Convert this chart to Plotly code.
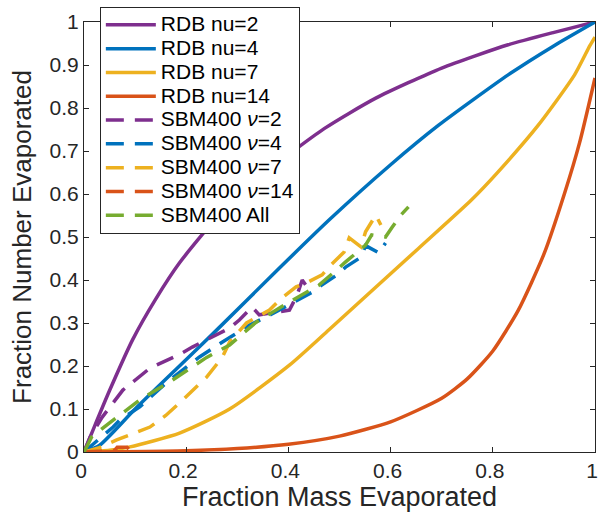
import plotly.graph_objects as go

# ---- data ----
rdb2_x = [0, 0.02, 0.05, 0.0955, 0.14, 0.187, 0.26, 0.35, 0.47, 0.571, 0.7, 0.83, 0.92, 1]
rdb2_y = [0, 0.058, 0.143, 0.262, 0.355, 0.44, 0.545, 0.645, 0.752, 0.823, 0.893, 0.947, 0.976, 1]

rdb4_x = [0, 0.03, 0.1, 0.193, 0.26, 0.38, 0.48, 0.6, 0.694, 0.83, 0.92, 1]
rdb4_y = [0, 0.015, 0.1, 0.207, 0.284, 0.425, 0.54, 0.668, 0.76, 0.877, 0.945, 1]

rdb7_x = [0, 0.05, 0.09, 0.187, 0.285, 0.402, 0.48, 0.655, 0.758, 0.81, 0.889, 0.96, 0.99, 1]
rdb7_y = [0, 0.004, 0.012, 0.044, 0.1, 0.202, 0.285, 0.474, 0.586, 0.651, 0.76, 0.877, 0.945, 0.965]

rdb14_x = [0, 0.2, 0.3, 0.4, 0.5, 0.6, 0.7, 0.75, 0.8, 0.85, 0.9, 0.94, 0.97, 1]
rdb14_y = [0, 0.003, 0.008, 0.018, 0.037, 0.07, 0.125, 0.17, 0.235, 0.33, 0.46, 0.6, 0.72, 0.87]

sbm2_x = [0, 0.012, 0.035, 0.076, 0.129, 0.187, 0.212, 0.246, 0.285, 0.304, 0.329, 0.343, 0.368, 0.402, 0.417, 0.427, 0.444]
sbm2_y = [0, 0.035, 0.08, 0.144, 0.195, 0.227, 0.244, 0.265, 0.288, 0.307, 0.337, 0.319, 0.323, 0.330, 0.365, 0.4, 0.372]

sbm4_x = [0, 0.02, 0.057, 0.07, 0.109, 0.16, 0.226, 0.271, 0.324, 0.376, 0.447, 0.46, 0.493, 0.512, 0.542, 0.551, 0.577, 0.59]
sbm4_y = [0, 0.02, 0.058, 0.074, 0.105, 0.16, 0.221, 0.256, 0.295, 0.326, 0.372, 0.384, 0.41, 0.43, 0.453, 0.48, 0.463, 0.486]

sbm7_x = [0, 0.03, 0.064, 0.1, 0.129, 0.16, 0.187, 0.24, 0.271, 0.285, 0.318, 0.363, 0.382, 0.415, 0.435, 0.466, 0.483, 0.509, 0.519, 0.542, 0.551, 0.571, 0.581]
sbm7_y = [0, 0.01, 0.028, 0.045, 0.058, 0.085, 0.114, 0.174, 0.221, 0.256, 0.3, 0.33, 0.353, 0.384, 0.393, 0.412, 0.435, 0.465, 0.498, 0.477, 0.512, 0.551, 0.528]

sbm14_x = [0, 0.03, 0.06, 0.065, 0.084, 0.09]
sbm14_y = [0, 0.002, 0.004, 0.011, 0.011, 0.004]

sball_x = [0, 0.015, 0.057, 0.109, 0.173, 0.226, 0.24, 0.285, 0.337, 0.402, 0.46, 0.512, 0.551, 0.563, 0.59, 0.602, 0.62, 0.635]
sball_y = [0, 0.035, 0.074, 0.121, 0.167, 0.209, 0.22, 0.249, 0.302, 0.349, 0.388, 0.442, 0.481, 0.505, 0.5, 0.521, 0.551, 0.57]

names = ["RDB nu=2", "RDB nu=4", "RDB nu=7", "RDB nu=14",
         "SBM400 <i>ν</i>=2", "SBM400 <i>ν</i>=4", "SBM400 <i>ν</i>=7", "SBM400 <i>ν</i>=14", "SBM400 All"]

x_ticks = [0, 0.2, 0.4, 0.6, 0.8, 1]
y_ticks = [0, 0.1, 0.2, 0.3, 0.4, 0.5, 0.6, 0.7, 0.8, 0.9, 1]

PURPLE = "#7E2F8E"
BLUE = "#0072BD"
YELLOW = "#EDB120"
ORANGE = "#D95319"
GREEN = "#77AC30"

series = [
    (rdb2_x, rdb2_y, PURPLE, "solid"),
    (rdb4_x, rdb4_y, BLUE, "solid"),
    (rdb7_x, rdb7_y, YELLOW, "solid"),
    (rdb14_x, rdb14_y, ORANGE, "solid"),
    (sbm2_x, sbm2_y, PURPLE, "dash"),
    (sbm4_x, sbm4_y, BLUE, "dash"),
    (sbm7_x, sbm7_y, YELLOW, "dash"),
    (sbm14_x, sbm14_y, ORANGE, "dash"),
    (sball_x, sball_y, GREEN, "dash"),
]

FONT = "Liberation Sans, Arial, Helvetica, sans-serif"
AXC = "#262626"

fig = go.Figure()
for (xs, ys, col, style), nm in zip(series, names):
    if style == "solid":
        line = dict(color=col, width=3.5, shape="spline", smoothing=0.6)
    else:
        line = dict(color=col, width=3.5, dash="18px,11px")
    label = '<span style="font-size:21px">' + nm + '</span>'
    fig.add_trace(go.Scatter(x=xs, y=ys, mode="lines", name=label, line=line))

axis_common = dict(
    showgrid=False, zeroline=False, showline=True, linecolor=AXC, linewidth=1,
    mirror="ticks", ticks="inside", ticklen=5, tickcolor=AXC, tickwidth=1,
    tickfont=dict(family=FONT, size=21, color=AXC),
    automargin=False, ticklabeloverflow="allow",
)

fig.update_layout(
    width=599, height=513,
    margin=dict(l=84, r=4, t=22, b=61),
    paper_bgcolor="white", plot_bgcolor="white",
    font=dict(family=FONT, color=AXC),
    showlegend=True,
    legend=dict(
        x=0.031, y=1.035, xanchor="left", yanchor="top",
        bgcolor="white", bordercolor=AXC, borderwidth=1,
        font=dict(family=FONT, size=16, color="#000000"),
        itemwidth=50,
    ),
    xaxis=dict(
        range=[0, 1], tickvals=x_ticks, ticktext=[f"{v:g}" for v in x_ticks],
        ticklabelshift=-3,
        title=dict(text="Fraction Mass Evaporated", font=dict(family=FONT, size=27, color=AXC), standoff=0),
        **axis_common,
    ),
    yaxis=dict(
        range=[0, 1], tickvals=y_ticks, ticktext=[f"{v:g}" for v in y_ticks],
        title=dict(text="Fraction Number Evaporated", font=dict(family=FONT, size=26, color=AXC), standoff=10),
        **axis_common,
    ),
)

fig.write_html("out.html")
